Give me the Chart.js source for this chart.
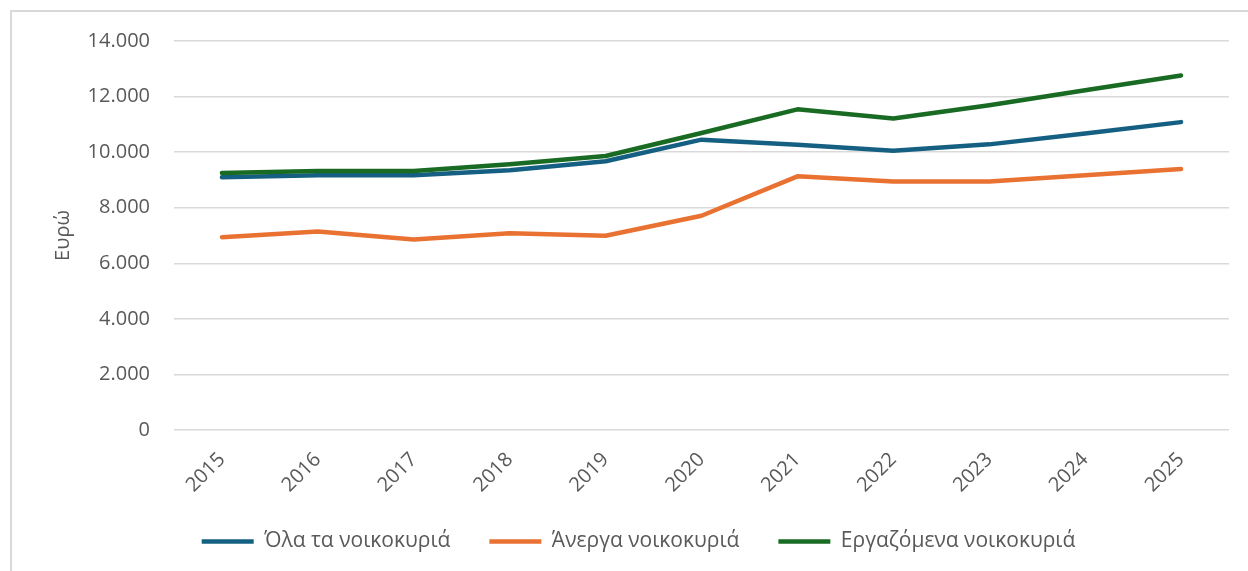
<!DOCTYPE html>
<html>
<head>
<meta charset="utf-8">
<script src="https://cdn.jsdelivr.net/npm/chart.js@4"></script>
<style>
  html, body { margin: 0; padding: 0; background: #fff; }
  #wrap { position: relative; width: 1248px; height: 571px; overflow: hidden; }
  #frame { position: absolute; left: 10px; top: 10px; width: 1300px; height: 600px; border-left: 2px solid #d9d9d9; border-top: 2px solid #d9d9d9; }
  canvas { position: absolute; left: 0; top: 0; }
</style>
</head>
<body>
<div id="wrap">
  <div id="frame"></div>
  <canvas id="lineChart" width="1248" height="571"></canvas>
</div>
<script>
  const years = ['2015', '2016', '2017', '2018', '2019', '2020', '2021', '2022', '2023', '2024', '2025'];
  const allHouseholds = [9100, 9170, 9170, 9350, 9670, 10450, 10270, 10050, 10280, 10670, 11080];
  const unemployedHouseholds = [6940, 7140, 6860, 7080, 6990, 7710, 9130, 8940, 8940, 9170, 9390];
  const employedHouseholds = [9250, 9320, 9320, 9560, 9860, 10690, 11540, 11210, 11690, 12230, 12760];
  const yTicks = [0, 2000, 4000, 6000, 8000, 10000, 12000, 14000];

  const font = '"Open Sans", "Noto Sans", sans-serif';
  const grey = '#595959';

  function fmt(v) {
    return String(v).replace(/\B(?=(\d{3})+(?!\d))/g, '.');
  }

  function series(label, data, color, order) {
    return {
      label: label,
      data: data,
      borderColor: color,
      backgroundColor: color,
      borderWidth: 4.5,
      borderCapStyle: 'round',
      borderJoinStyle: 'round',
      pointRadius: 0,
      fill: false,
      tension: 0,
      order: order
    };
  }

  new Chart(document.getElementById('lineChart').getContext('2d'), {
    type: 'line',
    data: {
      labels: years,
      datasets: [
        series('Όλα τα νοικοκυριά', allHouseholds, '#156082', 2),
        series('Άνεργα νοικοκυριά', unemployedHouseholds, '#E97132', 1),
        series('Εργαζόμενα νοικοκυριά', employedHouseholds, '#196B24', 0)
      ]
    },
    options: {
      responsive: false,
      animation: false,
      layout: { padding: { left: 48, right: 19, top: 41, bottom: 9 } },
      plugins: {
        tooltip: { enabled: false },
        legend: {
          position: 'bottom',
          labels: {
            usePointStyle: true,
            pointStyle: 'line',
            pointStyleWidth: 52,
            boxHeight: 20,
            padding: 39,
            color: grey,
            font: { family: font, size: 21 },
            sort: (a, b) => a.datasetIndex - b.datasetIndex
          }
        }
      },
      scales: {
        x: {
          offset: true,
          grid: { display: false, drawTicks: false },
          border: { display: false },
          ticks: {
            color: grey,
            font: { family: font, size: 20 },
            minRotation: 45,
            maxRotation: 45,
            padding: 18
          },
          afterFit: s => { s.height = 62; }
        },
        y: {
          min: 0,
          max: 14000,
          afterBuildTicks: s => { s.ticks = yTicks.map(v => ({ value: v })); },
          grid: { color: '#d9d9d9', lineWidth: 1.5, drawTicks: false },
          border: { display: false },
          ticks: {
            color: grey,
            font: { family: font, size: 20 },
            padding: 24,
            callback: v => fmt(v)
          },
          title: {
            display: true,
            text: 'Ευρώ',
            color: grey,
            font: { family: font, size: 20 },
            padding: { top: 3, bottom: 0 }
          },
          afterFit: s => { s.width = 126; }
        }
      }
    }
  });
</script>
</body>
</html>
